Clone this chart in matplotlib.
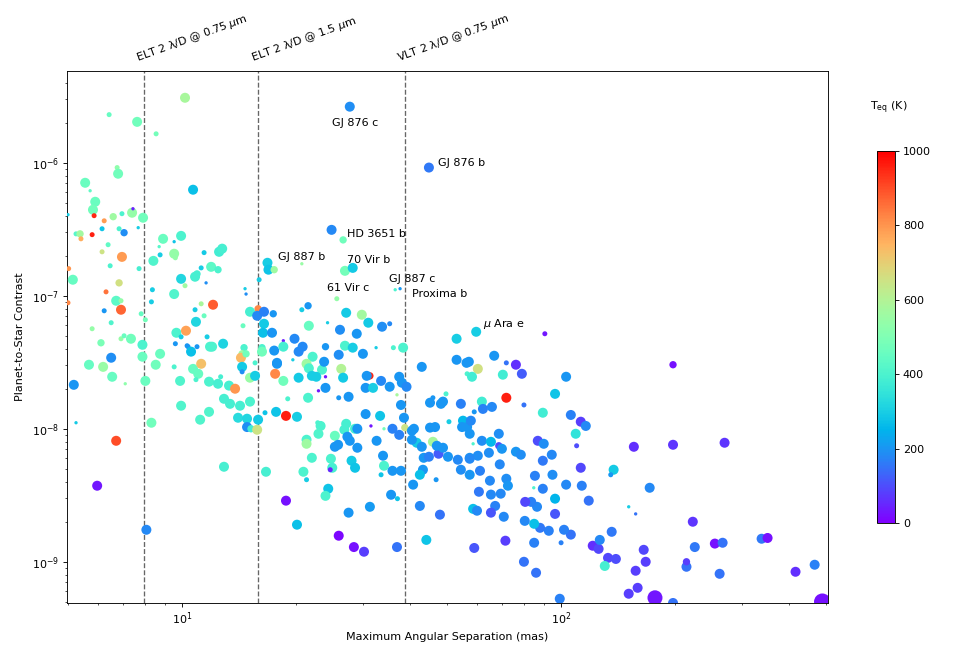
import matplotlib
matplotlib.use('Agg')
import matplotlib.pyplot as plt
import matplotlib.transforms as mtransforms
from matplotlib.ticker import NullFormatter

# planet sample: max angular separation (mas), planet/star contrast, Teq (K), radius (R_earth-ish)
sep_mas = [
    10.18, 6.42, 7.61, 8.54, 27.7, 44.8, 6.74, 6.78, 5.55, 5.72,
    10.69, 5.90, 5.82, 5.86, 6.23, 6.58, 6.94, 7.38, 7.42, 7.89,
    5.0, 5.25, 5.38, 5.41, 5.79, 6.15, 6.82, 7.03, 7.66, 6.38,
    6.15, 6.94, 5.02, 6.46, 7.70, 5.15, 6.82, 6.30, 6.70, 6.90,
    5.0, 6.90, 6.23, 7.80, 6.50, 5.79, 6.11, 6.90, 7.03, 7.33,
    8.0, 7.86, 8.91, 9.53, 9.94, 8.70, 8.75, 8.40, 9.53, 9.60,
    11.43, 12.52, 12.76, 11.23, 11.93, 12.44, 9.94, 10.18, 10.82, 10.95,
    11.57, 9.53, 8.35, 8.30, 11.23, 12.07, 10.82, 11.43, 10.88, 9.66,
    10.24, 9.94, 9.60, 10.37, 11.64, 12.0, 12.83, 14.66, 14.75, 14.48,
    14.57, 15.97, 16.8, 16.9, 17.5, 15.87, 15.11, 15.78, 16.45, 17.4,
    16.45, 16.35, 17.27, 16.25, 6.50, 5.68, 6.19, 6.54, 7.08, 5.18,
    7.86, 8.0, 8.52, 8.75, 9.53, 10.31, 10.95, 10.56, 10.69, 11.03,
    10.88, 11.23, 11.85, 9.88, 11.78, 12.44, 12.64, 13.3, 13.8, 9.94,
    11.78, 11.16, 12.9, 13.38, 14.22, 15.11, 14.05, 14.84, 14.84, 15.2,
    15.78, 15.87, 16.55, 17.7, 14.4, 14.3, 14.75, 14.4, 14.4, 15.11,
    15.58, 15.58, 16.25, 17.5, 17.8, 17.6, 5.25, 8.3, 6.70, 12.9,
    16.65, 5.97, 8.05, 24.8, 26.6, 20.7, 26.9, 28.2, 25.6, 36.5,
    37.6, 20.7, 21.5, 21.6, 24.2, 27.1, 29.8, 31.0, 33.7, 35.3,
    26.1, 28.9, 19.8, 18.5, 18.5, 20.3, 20.8, 19.6, 22.1, 23.9,
    26.9, 28.2, 25.9, 30.0, 32.5, 36.1, 38.3, 17.8, 21.3, 21.6,
    23.4, 23.7, 26.3, 22.0, 22.6, 23.9, 20.3, 18.5, 26.6, 31.3,
    30.7, 33.5, 35.3, 37.4, 38.0, 39.1, 30.5, 31.9, 23.9, 22.9,
    25.9, 27.5, 21.5, 19.0, 42.9, 53.0, 53.0, 56.3, 49.7, 45.9,
    18.8, 20.1, 30.5, 33.3, 36.9, 37.8, 38.5, 38.7, 45.1, 48.2,
    48.8, 54.4, 50.6, 55.1, 56.5, 45.1, 46.5, 22.8, 23.2, 22.9,
    21.3, 21.3, 22.0, 25.3, 27.1, 26.8, 28.6, 29.0, 27.3, 27.7,
    25.8, 25.3, 29.0, 31.5, 34.1, 32.6, 35.9, 37.4, 24.7, 24.9,
    24.6, 28.0, 28.6, 33.9, 34.1, 33.5, 35.9, 37.8, 20.9, 21.3,
    24.3, 23.9, 18.8, 20.1, 27.5, 31.3, 35.6, 37.0, 25.9, 28.4,
    30.2, 36.9, 40.4, 40.9, 41.6, 40.4, 42.9, 43.4, 44.8, 45.9,
    47.5, 47.0, 48.8, 50.3, 53.4, 54.4, 57.4, 43.2, 42.4, 40.7,
    46.8, 57.4, 42.4, 47.9, 44.1, 58.6, 59.7, 90.6, 57.1, 66.6,
    60.3, 56.5, 58.2, 71.7, 76.0, 78.8, 70.2, 103.1, 96.4, 71.7,
    61.8, 62.2, 65.7, 59.0, 79.8, 89.5, 106.1, 57.8, 54.8, 57.4,
    68.5, 112.7, 116.2, 109.3, 58.6, 61.8, 65.3, 68.5, 69.8, 60.3,
    57.4, 64.5, 76.0, 78.3, 86.8, 90.0, 94.5, 109.9, 155.6, 68.9,
    89.5, 112.7, 61.1, 64.9, 71.7, 72.4, 85.3, 94.9, 103.1, 113.4,
    137.6, 135.2, 171.3, 84.7, 89.5, 60.7, 65.3, 69.3, 59.0, 71.3,
    79.8, 85.9, 84.9, 100.0, 99.2, 121.2, 125.6, 126.5, 136.0, 133.0,
    139.5, 130.4, 106.1, 101.8, 92.8, 88.0, 84.9, 80.2, 96.4, 86.4,
    83.4, 80.4, 96.4, 118.3, 70.6, 67.0, 65.3, 60.0, 197.4, 197.4,
    270.0, 150.8, 157.3, 222.6, 165.2, 225.3, 254.5, 266.8, 338.1, 350.6,
    167.2, 157.3, 214.2, 214.2, 262.0, 415.5, 466.7, 159.2, 150.8, 176.9, 197.4, 489.0,
]

contrast = [
    3.08e-6, 2.30e-6, 2.03e-6, 1.65e-6, 2.64e-6, 9.2e-7, 9.2e-7, 8.27e-7, 7.07e-7, 6.16e-7,
    6.27e-7, 5.09e-7, 4.43e-7, 4.0e-7, 3.66e-7, 3.93e-7, 4.14e-7, 4.21e-7, 4.51e-7, 3.86e-7,
    4.07e-7, 2.92e-7, 2.92e-7, 2.68e-7, 2.88e-7, 3.19e-7, 3.19e-7, 2.98e-7, 3.25e-7, 2.42e-7,
    2.14e-7, 1.96e-7, 1.60e-7, 1.68e-7, 1.60e-7, 1.32e-7, 1.25e-7, 1.07e-7, 9.17e-8, 9.17e-8,
    8.86e-8, 7.85e-8, 7.71e-8, 7.32e-8, 6.27e-8, 5.65e-8, 4.43e-8, 4.75e-8, 5.0e-8, 4.75e-8,
    6.6e-8, 4.28e-8, 2.68e-7, 2.55e-7, 2.82e-7, 2.34e-7, 2.03e-7, 1.83e-7, 2.07e-7, 1.93e-7,
    2.11e-7, 2.14e-7, 2.26e-7, 1.62e-7, 1.65e-7, 1.57e-7, 1.34e-7, 1.19e-7, 1.39e-7, 1.46e-7,
    1.25e-7, 1.03e-7, 1.11e-7, 9.0e-8, 8.7e-8, 8.56e-8, 7.85e-8, 7.07e-8, 6.37e-8, 5.27e-8,
    5.46e-8, 4.91e-8, 4.36e-8, 4.14e-8, 4.91e-8, 4.14e-8, 4.36e-8, 1.13e-7, 1.03e-7, 5.95e-8,
    4.07e-8, 1.32e-7, 1.77e-7, 1.57e-7, 1.57e-7, 7.98e-8, 7.58e-8, 7.07e-8, 7.58e-8, 7.32e-8,
    6.16e-8, 5.27e-8, 5.27e-8, 4.07e-8, 3.42e-8, 3.03e-8, 2.92e-8, 2.46e-8, 2.18e-8, 2.14e-8,
    3.48e-8, 2.29e-8, 3.03e-8, 3.66e-8, 2.92e-8, 4.21e-8, 4.14e-8, 3.8e-8, 2.82e-8, 2.59e-8,
    2.34e-8, 3.08e-8, 4.14e-8, 2.29e-8, 2.26e-8, 2.18e-8, 2.46e-8, 2.11e-8, 2.0e-8, 1.49e-8,
    1.34e-8, 1.17e-8, 1.68e-8, 1.54e-8, 1.49e-8, 1.60e-8, 1.21e-8, 1.19e-8, 1.03e-8, 1.0e-8,
    9.83e-9, 1.17e-8, 1.32e-8, 1.34e-8, 3.66e-8, 3.42e-8, 3.66e-8, 2.92e-8, 2.68e-8, 2.42e-8,
    2.5e-8, 3.13e-8, 3.8e-8, 3.87e-8, 3.13e-8, 2.59e-8, 1.11e-8, 1.11e-8, 8.12e-9, 5.18e-9,
    4.75e-9, 3.73e-9, 1.74e-9, 3.13e-7, 2.63e-7, 1.74e-7, 1.54e-7, 1.62e-7, 9.5e-8, 1.11e-7,
    1.13e-7, 7.85e-8, 8.41e-8, 5.95e-8, 6.27e-8, 7.45e-8, 7.2e-8, 6.27e-8, 5.85e-8, 6.16e-8,
    5.55e-8, 5.18e-8, 4.75e-8, 4.59e-8, 4.14e-8, 3.8e-8, 4.14e-8, 3.3e-8, 3.48e-8, 4.14e-8,
    4.21e-8, 4.07e-8, 3.6e-8, 3.66e-8, 4.07e-8, 4.07e-8, 4.07e-8, 3.08e-8, 3.08e-8, 2.85e-8,
    2.78e-8, 3.19e-8, 2.82e-8, 2.5e-8, 2.46e-8, 2.46e-8, 2.42e-8, 2.29e-8, 2.42e-8, 2.5e-8,
    2.5e-8, 2.29e-8, 2.07e-8, 2.46e-8, 2.22e-8, 2.07e-8, 2.03e-8, 2.03e-8, 2.03e-8, 1.93e-8,
    1.71e-8, 1.74e-8, 1.71e-8, 1.68e-8, 2.92e-8, 4.75e-8, 3.3e-8, 3.13e-8, 1.83e-8, 1.71e-8,
    1.25e-8, 1.23e-8, 1.29e-8, 1.25e-8, 1.8e-8, 1.51e-8, 1.21e-8, 1.02e-8, 1.57e-8, 1.54e-8,
    1.6e-8, 1.54e-8, 1.13e-8, 1.15e-8, 1.03e-8, 1.02e-8, 1.03e-8, 1.11e-8, 1.05e-8, 9.17e-9,
    8.27e-9, 7.71e-9, 6.05e-9, 8.86e-9, 1.09e-8, 9.83e-9, 1.0e-8, 1.0e-8, 8.71e-9, 8.12e-9,
    7.58e-9, 7.32e-9, 7.2e-9, 1.05e-8, 1.0e-8, 8.12e-9, 1.0e-8, 9.0e-9, 5.95e-9, 5.09e-9,
    4.92e-9, 5.75e-9, 5.09e-9, 6.27e-9, 5.27e-9, 4.51e-9, 4.83e-9, 4.83e-9, 4.75e-9, 4.14e-9,
    3.54e-9, 3.13e-9, 2.88e-9, 1.9e-9, 2.34e-9, 2.59e-9, 3.19e-9, 2.98e-9, 1.57e-9, 1.29e-9,
    1.19e-9, 1.29e-9, 9.66e-9, 1.0e-8, 7.85e-9, 8.27e-9, 7.32e-9, 6.05e-9, 6.16e-9, 7.98e-9,
    6.49e-9, 7.45e-9, 7.2e-9, 6.16e-9, 5.85e-9, 4.92e-9, 6.05e-9, 4.92e-9, 4.51e-9, 3.8e-9,
    4.14e-9, 4.51e-9, 2.63e-9, 2.26e-9, 1.46e-9, 2.5e-9, 5.36e-8, 5.18e-8, 3.19e-8, 3.54e-8,
    2.82e-8, 2.59e-8, 2.46e-8, 3.13e-8, 3.03e-8, 2.59e-8, 2.55e-8, 2.46e-8, 1.83e-8, 1.71e-8,
    1.6e-8, 1.41e-8, 1.46e-8, 1.34e-8, 1.51e-8, 1.32e-8, 1.27e-8, 1.15e-8, 1.03e-8, 9.17e-9,
    9.17e-9, 1.13e-8, 1.05e-8, 9.17e-9, 7.71e-9, 8.12e-9, 7.98e-9, 7.45e-9, 7.07e-9, 6.27e-9,
    5.95e-9, 6.6e-9, 6.72e-9, 6.38e-9, 8.12e-9, 7.71e-9, 6.38e-9, 7.45e-9, 7.32e-9, 5.4e-9,
    5.75e-9, 5.09e-9, 4.83e-9, 4.07e-9, 4.21e-9, 3.73e-9, 4.43e-9, 4.51e-9, 3.8e-9, 3.73e-9,
    4.92e-9, 4.51e-9, 3.6e-9, 3.6e-9, 3.54e-9, 3.36e-9, 3.2e-9, 3.25e-9, 1.27e-9, 1.44e-9,
    1.0e-9, 8.27e-10, 1.39e-9, 1.39e-9, 5.27e-10, 1.32e-9, 1.25e-9, 1.46e-9, 1.68e-9, 1.07e-9,
    1.05e-9, 9.3e-10, 1.6e-9, 1.74e-9, 1.71e-9, 1.8e-9, 1.93e-9, 2.03e-9, 2.29e-9, 2.59e-9,
    2.82e-9, 2.82e-9, 2.98e-9, 2.88e-9, 2.18e-9, 2.63e-9, 2.34e-9, 2.42e-9, 3.03e-8, 7.58e-9,
    7.85e-9, 2.59e-9, 2.29e-9, 2.0e-9, 1.23e-9, 1.29e-9, 1.37e-9, 1.39e-9, 1.49e-9, 1.51e-9,
    1.0e-9, 8.56e-10, 9.17e-10, 1.0e-9, 8.12e-10, 8.41e-10, 9.5e-10, 6.37e-10, 5.75e-10, 5.36e-10, 4.9e-10, 5.0e-10,
]

teq_k = [
    580, 450, 470, 480, 190, 160, 530, 470, 460, 440,
    270, 460, 470, 950, 790, 560, 400, 540, 40, 470,
    300, 420, 570, 760, 960, 280, 400, 190, 300, 440,
    650, 790, 800, 400, 390, 450, 660, 850, 430, 540,
    820, 870, 200, 450, 410, 540, 490, 540, 460, 470,
    480, 400, 460, 280, 400, 420, 300, 410, 540, 540,
    290, 380, 390, 300, 430, 400, 320, 560, 390, 390,
    190, 410, 300, 300, 580, 880, 300, 460, 320, 400,
    780, 300, 200, 200, 300, 400, 310, 300, 190, 460,
    400, 300, 300, 280, 560, 820, 390, 180, 170, 200,
    290, 270, 200, 400, 190, 450, 550, 450, 530, 200,
    460, 460, 470, 460, 400, 200, 200, 270, 450, 450,
    400, 730, 400, 410, 400, 390, 390, 390, 800, 410,
    410, 410, 390, 390, 390, 400, 330, 320, 190, 380,
    650, 290, 280, 280, 560, 740, 470, 290, 190, 550,
    300, 400, 470, 200, 200, 820, 290, 470, 900, 390,
    390, 30, 180, 180, 470, 550, 480, 290, 540, 400,
    200, 300, 200, 450, 300, 290, 570, 290, 190, 180,
    190, 200, 180, 40, 390, 180, 180, 300, 400, 200,
    400, 300, 190, 200, 300, 400, 400, 200, 560, 400,
    400, 200, 600, 300, 300, 30, 290, 470, 290, 950,
    200, 180, 200, 200, 200, 180, 200, 300, 200, 30,
    200, 200, 400, 400, 200, 300, 200, 200, 400, 200,
    960, 300, 200, 280, 580, 200, 200, 650, 200, 200,
    200, 170, 300, 260, 200, 200, 200, 400, 400, 410,
    400, 560, 400, 460, 390, 390, 390, 200, 200, 200,
    200, 200, 200, 30, 480, 200, 170, 170, 400, 390,
    50, 290, 280, 200, 400, 280, 200, 200, 400, 300,
    280, 400, 20, 270, 200, 210, 200, 280, 10, 20,
    80, 150, 200, 200, 290, 200, 200, 200, 170, 580,
    120, 200, 200, 200, 180, 190, 200, 200, 270, 200,
    200, 200, 180, 150, 280, 270, 300, 30, 200, 200,
    660, 400, 380, 150, 60, 120, 380, 200, 280, 960,
    380, 170, 180, 200, 150, 380, 170, 180, 200, 200,
    190, 80, 180, 350, 400, 190, 260, 100, 200, 190,
    180, 190, 200, 190, 100, 190, 180, 100, 60, 180,
    160, 90, 170, 180, 190, 200, 170, 190, 180, 170,
    290, 200, 180, 400, 170, 160, 180, 180, 110, 80,
    150, 150, 170, 170, 170, 60, 90, 180, 160, 90,
    100, 390, 150, 170, 170, 160, 270, 180, 110, 180,
    170, 90, 250, 150, 180, 170, 110, 180, 20, 70,
    70, 300, 150, 70, 90, 160, 20, 150, 160, 20,
    80, 80, 150, 80, 150, 60, 170, 80, 80, 30, 150, 20,
]

radius = [
    3, 1.5, 3, 1.5, 3, 3, 1.5, 3, 3, 1,
    3, 3, 3, 1.5, 1.5, 2.2, 1.5, 3, 1, 3,
    1, 1.5, 2.2, 1.5, 1.5, 1.5, 1.5, 2.2, 1, 1.5,
    1.5, 3, 1.5, 1.5, 1.5, 3, 2.2, 1.5, 3, 1.5,
    1.5, 3, 1.5, 1.5, 1.5, 1.5, 2.2, 1.5, 1.5, 3,
    1.5, 3, 3, 1, 3, 1, 1.5, 3, 3, 1.5,
    1.5, 3, 3, 1.5, 3, 2.2, 3, 1.5, 3, 2.2,
    1, 3, 1.5, 1.5, 1.5, 3, 1.5, 1.5, 3, 3,
    3, 1.5, 1.5, 1.5, 1.5, 3, 3, 1, 1, 1.5,
    2.2, 1.5, 3, 3, 2.2, 2.2, 3, 3, 3, 2.2,
    3, 3, 3, 2.2, 3, 3, 3, 3, 1, 3,
    3, 3, 3, 3, 1.5, 1.5, 1.5, 3, 3, 3,
    1.5, 3, 3, 3, 3, 3, 1.5, 3, 3, 3,
    3, 3, 3, 3, 3, 3, 3, 3, 3, 2.2,
    3, 3, 1.5, 3, 2.2, 3, 2.2, 3, 1.5, 3,
    3, 1.5, 3, 3, 3, 3, 1, 3, 3, 3,
    3, 3, 3, 3, 2.2, 1, 3, 3, 1.5, 1,
    1, 1.5, 2.2, 3, 1, 3, 3, 3, 3, 1.5,
    3, 3, 3, 1, 3, 3, 3, 1, 3, 2.2,
    3, 3, 3, 3, 1, 1.5, 3, 3, 3, 3,
    3, 3, 3, 3, 3, 1, 3, 3, 3, 2.2,
    3, 3, 3, 3, 3, 3, 3, 3, 3, 1,
    1.5, 3, 3, 1.5, 3, 3, 3, 3, 1.5, 1.5,
    3, 3, 3, 3, 1, 3, 3, 2.2, 3, 3,
    3, 3, 1.5, 3, 3, 3, 3, 1.5, 3, 3,
    3, 3, 3, 3, 3, 3, 3, 3, 3, 3,
    3, 3, 3, 1, 1, 3, 3, 3, 3, 3,
    1.5, 3, 3, 3, 3, 1.5, 3, 3, 3, 1.5,
    3, 3, 3, 3, 3, 3, 3, 1.5, 3, 3,
    3, 3, 3, 3, 3, 3, 3, 3, 3, 3,
    3, 3, 3, 3, 3, 3, 3, 3, 3, 3,
    1.5, 3, 3, 3, 3, 3, 3, 1.5, 3, 3,
    3, 1.5, 3, 1.5, 3, 3, 3, 3, 3, 3,
    3, 3, 3, 1.5, 1.5, 3, 3, 3, 3, 3,
    3, 3, 3, 3, 1, 3, 3, 2.2, 3, 3,
    3, 3, 3, 3, 3, 3, 3, 1.5, 3, 3,
    3, 3, 3, 3, 3, 3, 3, 3, 3, 3,
    3, 1.5, 3, 1, 3, 3, 3, 3, 3, 3,
    3, 3, 3, 1.5, 3, 3, 3, 3, 3, 3,
    3, 3, 3, 3, 3, 3, 3, 3, 3, 3,
    3, 3, 3, 3, 3, 3, 3, 3, 2.2, 3,
    3, 1, 1, 3, 3, 3, 3, 3, 3, 3,
    3, 3, 3, 2.2, 3, 3, 3, 3, 3, 4.5, 3, 5,
]

# labelled planets
named = ['GJ 876 c', 'GJ 876 b', 'HD 3651 b', 'GJ 887 b', '70 Vir b',
         '61 Vir c', 'GJ 887 c', 'Proxima b', r'$\mu$ Ara e']
named_sep = [27.7, 44.8, 24.8, 20.7, 26.9, 25.6, 36.5, 37.6, 59.7]
named_con = [2.64e-6, 9.2e-7, 3.13e-7, 1.74e-7, 1.54e-7, 9.5e-8, 1.11e-7, 1.13e-7, 5.36e-8]

# 2 lambda/D inner working angles (mas)
iwa_mas = [7.93, 15.87, 38.67]
iwa_names = [r'ELT 2 λ/D @ 0.75 $\mu$m', r'ELT 2 λ/D @ 1.5 $\mu$m', r'VLT 2 λ/D @ 0.75 $\mu$m']

label_offsets = [(5, -15, 'center'), (8, 4, 'left'), (13.5, -3.6, 'left'), (0, 6.3, 'center'),
                 (2, 10, 'left'), (-9, 10, 'left'), (-6, 10, 'left'), (11, -4.5, 'left'),
                 (6, 7, 'left')]

fig = plt.figure(figsize=(953/80, 660/80), dpi=80)
ax = fig.add_axes([0.0703, 0.0864, 0.7985, 0.8061])

sizes = [9*r**2 for r in radius]
sc = ax.scatter(sep_mas, contrast, c=teq_k, s=sizes, cmap='rainbow', vmin=0, vmax=1000,
                edgecolors='none', zorder=3)

ax.set_xscale('log')
ax.set_yscale('log')
ax.set_xlim(4.97, 506)
ax.set_ylim(4.9e-10, 4.9e-6)
ax.xaxis.set_minor_formatter(NullFormatter())
ax.yaxis.set_minor_formatter(NullFormatter())

trans = mtransforms.blended_transform_factory(ax.transData, ax.transAxes)
for x, name in zip(iwa_mas, iwa_names):
    ax.axvline(x, color='0.4', ls='--', lw=1.2, zorder=2)
    ax.annotate(name, xy=(x, 1.0), xycoords=trans, xytext=(-4, 5), textcoords='offset points',
                rotation=20, rotation_mode='anchor', ha='left', va='bottom', fontsize=10)

for name, x, y, (dx, dy, ha) in zip(named, named_sep, named_con, label_offsets):
    ax.annotate(name, xy=(x, y), xytext=(dx, dy), textcoords='offset points',
                ha=ha, va='center', fontsize=10, zorder=4)

ax.set_xlabel('Maximum Angular Separation (mas)')
ax.set_ylabel('Planet-to-Star Contrast', labelpad=6)

cax = fig.add_axes([0.9203, 0.2076, 0.0189, 0.5636])
cb = fig.colorbar(sc, cax=cax)
cb.set_ticks([0, 200, 400, 600, 800, 1000])
fig.text(0.9329, 0.8364, r'T$_{\rm eq}$ (K)', ha='center', va='center', fontsize=10)

plt.savefig('out.png', dpi=80)
